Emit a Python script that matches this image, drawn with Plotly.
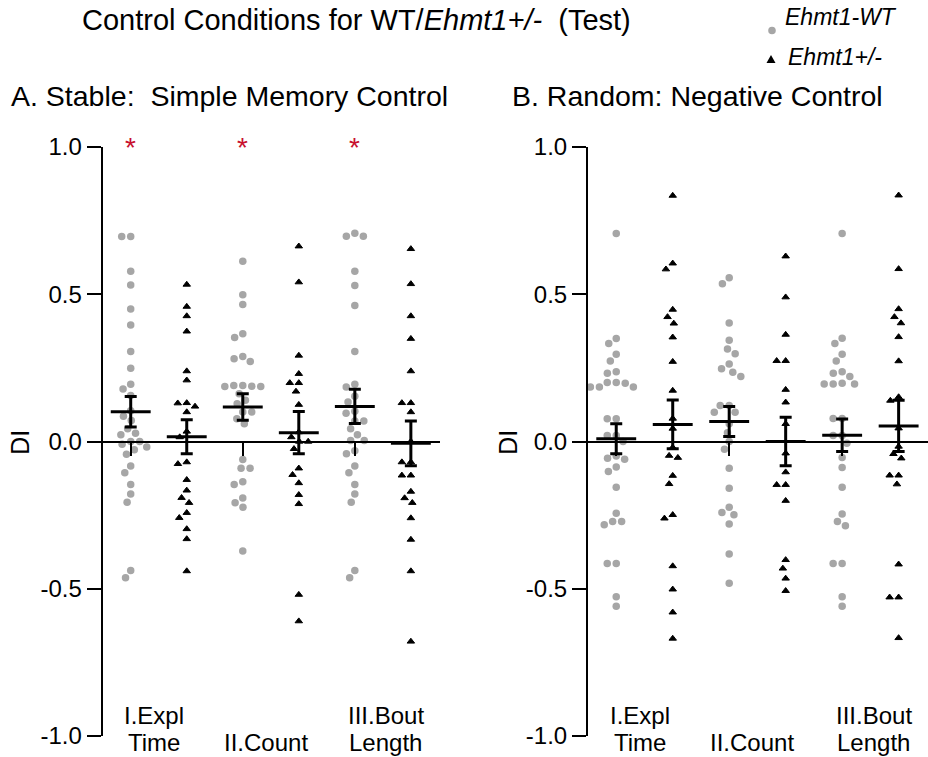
import math
import plotly.graph_objects as go

# ---------------- data ----------------
categories = ["I.Expl|Time", "II.Count", "III.Bout|Length"]
genotypes = ["Ehmt1-WT", "Ehmt1+/-"]

# A. Stable: Simple Memory Control
stable_wt_expl = [0.696, 0.696, 0.578, 0.531, 0.450, 0.396, 0.306, 0.249, 0.194, 0.178, 0.156, 0.104,
                  0.086, 0.071, 0.043, 0.028, 0.023, 0.0, 0.0, -0.009, -0.019, -0.028, -0.043, -0.083,
                  -0.106, -0.146, -0.178, -0.206, -0.438, -0.463]
stable_het_expl = [0.533, 0.458, 0.426, 0.374, 0.239, 0.208, 0.131, 0.130, 0.119, 0.100, 0.034, 0.015,
                   -0.070, -0.076, -0.130, -0.166, -0.191, -0.208, -0.242, -0.259, -0.297, -0.331, -0.440]
stable_wt_count = [0.612, 0.498, 0.465, 0.366, 0.353, 0.289, 0.281, 0.272, 0.190, 0.190, 0.188, 0.187,
                   0.187, 0.162, 0.140, 0.128, 0.100, 0.100, 0.077, 0.060, -0.061, -0.091, -0.091,
                   -0.137, -0.146, -0.192, -0.208, -0.223, -0.372]
stable_het_count = [0.663, 0.541, 0.292, 0.230, 0.199, 0.199, 0.170, 0.125, 0.032, 0.015, 0.0, 0.0,
                    -0.025, -0.091, -0.113, -0.141, -0.181, -0.212, -0.520, -0.610]
stable_wt_bout = [0.707, 0.697, 0.697, 0.578, 0.530, 0.462, 0.306, 0.194, 0.185, 0.154, 0.134, 0.103,
                  0.096, 0.070, 0.070, 0.043, 0.023, 0.003, 0.003, -0.031, -0.042, -0.083, -0.106,
                  -0.146, -0.178, -0.206, -0.438, -0.463]
stable_het_bout = [0.654, 0.535, 0.426, 0.349, 0.239, 0.131, 0.131, 0.100, 0.0, -0.070, -0.070, -0.115,
                   -0.115, -0.170, -0.192, -0.208, -0.260, -0.333, -0.440, -0.679]
stable_wt_mean = [0.101, 0.117, 0.119]
stable_wt_sem = [0.052, 0.045, 0.058]
stable_het_mean = [0.016, 0.030, -0.006]
stable_het_sem = [0.058, 0.072, 0.076]
stable_significant = [True, True, True]

# B. Random: Negative Control
random_wt_expl = [0.706, 0.350, 0.333, 0.296, 0.273, 0.237, 0.232, 0.200, 0.200, 0.198, 0.185, 0.185,
                  0.185, 0.077, 0.077, 0.020, 0.020, 0.0, -0.049, -0.057, -0.060, -0.087, -0.102,
                  -0.155, -0.244, -0.272, -0.272, -0.283, -0.414, -0.414, -0.527, -0.559]
random_het_expl = [0.835, 0.605, 0.585, 0.448, 0.423, 0.401, 0.354, 0.271, 0.173, 0.078, 0.044, -0.020,
                   -0.048, -0.055, -0.116, -0.144, -0.249, -0.261, -0.423, -0.502, -0.580, -0.669]
random_wt_count = [0.556, 0.536, 0.402, 0.344, 0.314, 0.298, 0.263, 0.247, 0.235, 0.221, 0.122, 0.122,
                   0.099, 0.099, 0.060, 0.030, 0.0, -0.026, -0.091, -0.159, -0.223, -0.241, -0.249,
                   -0.280, -0.382, -0.481]
random_het_count = [0.629, 0.490, 0.363, 0.274, 0.274, 0.176, 0.133, 0.060, -0.040, -0.104, -0.147,
                    -0.147, -0.201, -0.402, -0.431, -0.465, -0.507]
random_wt_bout = [0.706, 0.351, 0.333, 0.296, 0.273, 0.237, 0.232, 0.221, 0.198, 0.195, 0.195, 0.195,
                  0.078, 0.078, 0.020, 0.020, -0.006, -0.054, -0.088, -0.155, -0.246, -0.272, -0.286,
                  -0.414, -0.414, -0.527, -0.559]
random_het_bout = [0.836, 0.586, 0.450, 0.423, 0.402, 0.355, 0.273, 0.151, 0.139, 0.045, -0.017, -0.042,
                   -0.057, -0.115, -0.115, -0.145, -0.417, -0.529, -0.529, -0.667]
random_wt_mean = [0.009, 0.068, 0.021]
random_wt_sem = [0.051, 0.051, 0.055]
random_het_mean = [0.058, 0.0, 0.053]
random_het_sem = [0.083, 0.082, 0.087]
random_significant = [False, False, False]

y_tickvals = [1.0, 0.5, 0.0, -0.5, -1.0]
y_ticktext = ["1.0", "0.5", "0.0", "-0.5", "-1.0"]

# ---------------- layout constants ----------------
FONT = "Liberation Sans, Arial, sans-serif"
W, H = 928, 757
MT, MB = 147, 21
PH = H - MT - MB
XA_DOM = [102.7 / W, 440.0 / W]
XB_DOM = [588.0 / W, 1.0]
XRANGE = [0.5, 6.52]
YRANGE = [-1.0, 1.0]
GRAY = "#a6a6a6"
RED = "#c8102e"
PPY = PH / (YRANGE[1] - YRANGE[0])


def ppx(dom):
    return (dom[1] - dom[0]) * W / (XRANGE[1] - XRANGE[0])


def swarm(vals, px_per_x, D=9.0):
    """Beeswarm offsets (in x units) computed from the values."""
    order = sorted(range(len(vals)), key=lambda i: -vals[i])
    placed = []
    offs = [0.0] * len(vals)
    for i in order:
        y = vals[i] * PPY
        ivs = []
        for (xp, yp) in placed:
            dy = abs(y - yp)
            if dy < D:
                dx = math.sqrt(D * D - dy * dy)
                ivs.append((xp - dx, xp + dx))
        cands = [0.0] + [e for iv in ivs for e in iv]
        cands.sort(key=lambda c: (round(abs(c), 6), c))
        chosen = 0.0
        for c in cands:
            if all(not (a + 1e-6 < c < b - 1e-6) for a, b in ivs):
                chosen = c
                break
        placed.append((chosen, y))
        offs[i] = chosen / px_per_x
    return offs


def px_x(p):
    return p / W


def px_y(p):
    return (H - MB - p) / PH


fig = go.Figure()

panels = [
    dict(xa="x", ya="y", dom=XA_DOM,
         wt=[stable_wt_expl, stable_wt_count, stable_wt_bout],
         het=[stable_het_expl, stable_het_count, stable_het_bout],
         wt_mean=stable_wt_mean, wt_sem=stable_wt_sem,
         het_mean=stable_het_mean, het_sem=stable_het_sem,
         sig=stable_significant),
    dict(xa="x2", ya="y2", dom=XB_DOM,
         wt=[random_wt_expl, random_wt_count, random_wt_bout],
         het=[random_het_expl, random_het_count, random_het_bout],
         wt_mean=random_wt_mean, wt_sem=random_wt_sem,
         het_mean=random_het_mean, het_sem=random_het_sem,
         sig=random_significant),
]

annotations = []
for p in panels:
    sc = ppx(p["dom"])
    for gi in range(2):
        groups = p["wt"] if gi == 0 else p["het"]
        xs, ys = [], []
        for k, vals in enumerate(groups):
            base = 2 * k + 1 + gi
            offs = swarm(vals, sc)
            xs += [base + o for o in offs]
            ys += vals
        if gi == 0:
            marker = dict(symbol="circle", size=7.5, color=GRAY, line=dict(width=0))
        else:
            marker = dict(symbol="triangle-up", size=6.5, color="black",
                          line=dict(width=1, color="black"))
        fig.add_trace(go.Scatter(x=xs, y=ys, mode="markers", marker=marker,
                                 xaxis=p["xa"], yaxis=p["ya"], showlegend=False,
                                 name=genotypes[gi], hoverinfo="y"))
    for gi in range(2):
        means = p["wt_mean"] if gi == 0 else p["het_mean"]
        sems = p["wt_sem"] if gi == 0 else p["het_sem"]
        xs = [2 * k + 1 + gi for k in range(3)]
        fig.add_trace(go.Scatter(
            x=xs, y=means, mode="markers",
            marker=dict(symbol="line-ew", size=28.5, color="black",
                        line=dict(width=3, color="black")),
            error_y=dict(type="data", array=sems, visible=True, color="black",
                         thickness=3, width=6),
            xaxis=p["xa"], yaxis=p["ya"], showlegend=False, hoverinfo="y"))
    # significance stars
    for k, s in enumerate(p["sig"]):
        if s:
            annotations.append(dict(x=2 * k + 1, y=1.0, xref=p["xa"], yref=p["ya"], text="*",
                                    showarrow=False, yanchor="middle", yshift=0,
                                    font=dict(family=FONT, size=28, color=RED)))
    # category labels (two text lines under each pair)
    label_x = [1.42, 3.41, 5.555]
    for k, cat in enumerate(categories):
        parts = cat.split("|")
        lines = parts if len(parts) == 2 else ["", parts[0]]
        for li, txt in enumerate(lines):
            if not txt:
                continue
            annotations.append(dict(x=label_x[k], y=px_y([715.0, 742.0][li]), xref=p["xa"],
                                    yref="paper", text=txt, showarrow=False,
                                    xanchor="center", yanchor="middle",
                                    font=dict(family=FONT, size=24, color="black")))

# titles
annotations += [
    dict(x=px_x(356), y=px_y(20), xref="paper", yref="paper", showarrow=False,
         text="Control Conditions for WT/<i>Ehmt1+/-</i>\u00a0 (Test)",
         xanchor="center", yanchor="middle", font=dict(family=FONT, size=29, color="black")),
    dict(x=px_x(229), y=px_y(96), xref="paper", yref="paper", showarrow=False,
         text="A. Stable:\u00a0 Simple Memory Control",
         xanchor="center", yanchor="middle", font=dict(family=FONT, size=28.5, color="black")),
    dict(x=px_x(697), y=px_y(96), xref="paper", yref="paper", showarrow=False,
         text="B. Random: Negative Control",
         xanchor="center", yanchor="middle", font=dict(family=FONT, size=28.5, color="black")),
    dict(x=px_x(783), y=px_y(17), xref="paper", yref="paper", showarrow=False,
         text="<i>" + genotypes[0] + "</i>", xanchor="left", yanchor="middle",
         font=dict(family=FONT, size=23, color="black")),
    dict(x=px_x(786), y=px_y(57), xref="paper", yref="paper", showarrow=False,
         text="<i>" + genotypes[1] + "</i>", xanchor="left", yanchor="middle",
         font=dict(family=FONT, size=23, color="black")),
    dict(x=px_x(20), y=px_y(442.7), xref="paper", yref="paper", showarrow=False,
         text="DI", textangle=-90, xanchor="center", yanchor="middle",
         font=dict(family=FONT, size=25, color="black")),
    dict(x=px_x(508), y=px_y(442.7), xref="paper", yref="paper", showarrow=False,
         text="DI", textangle=-90, xanchor="center", yanchor="middle",
         font=dict(family=FONT, size=25, color="black")),
]

shapes = [
    dict(type="circle", xref="paper", yref="paper",
         x0=px_x(768.2), x1=px_x(775.8), y0=px_y(34.3), y1=px_y(26.7),
         fillcolor=GRAY, line=dict(width=0)),
    dict(type="path", xref="paper", yref="paper",
         path="M {:.5f},{:.5f} L {:.5f},{:.5f} L {:.5f},{:.5f} Z".format(
             px_x(766.5), px_y(63.0), px_x(775.5), px_y(63.0), px_x(771.0), px_y(55.0)),
         fillcolor="black", line=dict(width=0)),
]

common_y = dict(range=YRANGE, domain=[0, 1], showline=True, linecolor="black", linewidth=2,
                ticks="outside", ticklen=14, tickwidth=2, tickcolor="black",
                tickvals=y_tickvals, ticktext=y_ticktext,
                tickfont=dict(family=FONT, size=24, color="black"),
                showgrid=False, zeroline=False)
common_x = dict(range=XRANGE, anchor="free", position=0.5, showline=True, linecolor="black",
                linewidth=2, ticks="outside", ticklen=13, tickwidth=2, tickcolor="black",
                tickvals=[1, 3, 5], showticklabels=False, showgrid=False, zeroline=False)

fig.update_layout(
    width=W, height=H,
    margin=dict(l=0, r=0, t=MT, b=MB, pad=0),
    paper_bgcolor="white", plot_bgcolor="rgba(0,0,0,0)",
    xaxis=dict(domain=XA_DOM, **common_x),
    xaxis2=dict(domain=XB_DOM, **common_x),
    yaxis=dict(anchor="x", **common_y),
    yaxis2=dict(anchor="x2", **common_y),
    annotations=annotations,
    shapes=shapes,
    showlegend=False,
    font=dict(family=FONT, color="black"),
)

fig.write_html("out.html",
               config={"displayModeBar": False},
               post_script="document.body.style.margin='0px';document.body.style.overflow='hidden';")
